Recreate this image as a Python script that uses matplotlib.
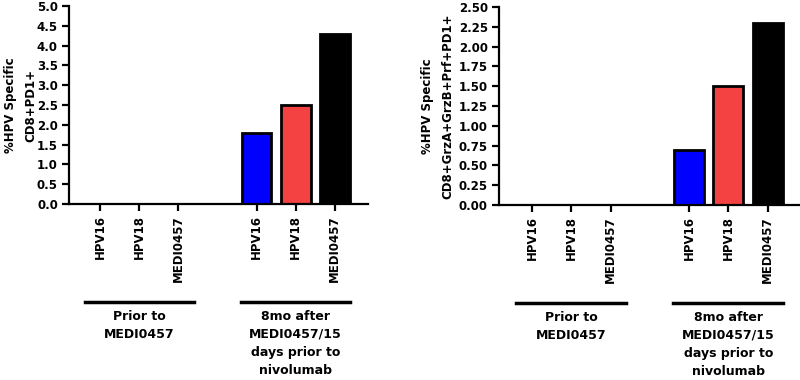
import matplotlib.pyplot as plt

plt.rcParams["font.family"] = ["DejaVu Sans"]
plt.rcParams["font.weight"] = "bold"

# data
tick_labels = ["HPV16", "HPV18", "MEDI0457", "HPV16", "HPV18", "MEDI0457"]
positions = [0, 1, 2, 4, 5, 6]
pd1_values = [0, 0, 0, 1.8, 2.5, 4.3]
cytotoxic_values = [0, 0, 0, 0.7, 1.5, 2.3]
bar_colors = ["#0000FF", "#F44242", "#000000", "#0000FF", "#F44242", "#000000"]
group_labels = ["Prior to\nMEDI0457", "8mo after\nMEDI0457/15\ndays prior to\nnivolumab"]
group_spans = [(-0.4, 2.4), (3.6, 6.4)]
group_centers = [1, 5]

W, H = 800, 380
fig = plt.figure(figsize=(W / 100, H / 100), dpi=100)


def px_axes(x0, x1, ytop, ybot):
    return fig.add_axes([x0 / W, 1 - ybot / H, (x1 - x0) / W, (ybot - ytop) / H])


def draw_panel(ax, values, ymax, ystep, fmt, ylabel, label_x):
    for pos, val, col in zip(positions, values, bar_colors):
        if val > 0:
            ax.bar(pos, val, width=0.76, color=col, edgecolor="black", linewidth=2, zorder=2)
    ax.set_ylim(0, ymax)
    n = int(round(ymax / ystep))
    ticks = [i * ystep for i in range(n + 1)]
    ax.set_yticks(ticks)
    ax.set_yticklabels([fmt.format(t) for t in ticks])
    ax.set_xticks(positions)
    ax.set_xticklabels(tick_labels, rotation=90, va="top", ha="center")
    for side in ["top", "right"]:
        ax.spines[side].set_visible(False)
    for side in ["left", "bottom"]:
        ax.spines[side].set_linewidth(1.6)
    ax.tick_params(axis="both", width=1.6, length=5, labelsize=8.5, pad=3)
    ax.set_ylabel(ylabel, fontsize=8.5, fontweight="bold", linespacing=1.75)
    ax.yaxis.set_label_coords(label_x, 0.5)
    tr = ax.get_xaxis_transform()
    for (a, b), c, lab in zip(group_spans, group_centers, group_labels):
        ax.plot([a, b], [-0.495, -0.495], color="black", linewidth=2.5,
                transform=tr, clip_on=False)
        ax.text(c, -0.535, lab, transform=tr, ha="center", va="top",
                fontsize=9, fontweight="bold", linespacing=1.5)


ax1 = px_axes(69, 368, 6, 204)
ax1.set_xlim(-0.8, 6.85)
draw_panel(ax1, pd1_values, 5.0, 0.5, "{:.1f}", "%HPV Specific\nCD8+PD1+", -0.105)

ax2 = px_axes(499, 799, 7, 205)
ax2.set_xlim(-0.84, 6.8)
draw_panel(ax2, cytotoxic_values, 2.5, 0.25, "{:.2f}",
           "%HPV Specific\nCD8+GrzA+GrzB+Prf+PD1+", -0.15)

fig.savefig("out.png", dpi=100)
